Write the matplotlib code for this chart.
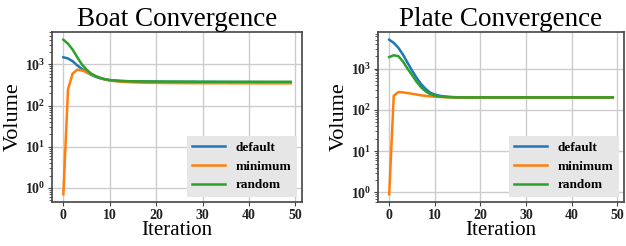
import matplotlib
matplotlib.use("Agg")
import matplotlib.pyplot as plt
import numpy as np

iterations = list(range(50))

boat_default = [1500, 1400, 1200, 950, 780, 650, 560, 500, 460, 430, 415, 405, 400, 395, 392,
                390, 388, 386, 385, 384, 383, 382, 381, 380, 380, 379, 379, 378, 378, 377,
                377, 376, 376, 376, 375, 375, 375, 374, 374, 374, 373, 373, 373, 372, 372,
                372, 372, 371, 371, 371]
boat_minimum = [0.7, 250, 600, 750, 720, 650, 580, 520, 470, 430, 410, 395, 385, 378, 372,
                368, 365, 362, 360, 358, 357, 356, 355, 354, 353, 353, 352, 352, 351, 351,
                351, 350, 350, 350, 350, 350, 349, 349, 349, 349, 349, 349, 348, 348, 348,
                348, 348, 348, 348, 348]
boat_random = [4000, 3200, 2300, 1500, 1000, 750, 600, 520, 470, 440, 420, 410, 400, 395, 392,
               390, 388, 387, 386, 385, 385, 384, 384, 383, 383, 383, 382, 382, 382, 381,
               381, 381, 381, 380, 380, 380, 380, 380, 380, 380, 380, 380, 380, 380, 380,
               380, 380, 380, 380, 380]

plate_default = [5000, 4200, 3200, 2200, 1400, 900, 600, 420, 320, 260, 235, 220, 212, 207, 204,
                 202, 201, 200, 200, 200, 200, 200, 200, 200, 200, 200, 200, 200, 200, 200,
                 200, 200, 200, 200, 200, 200, 200, 200, 200, 200, 200, 200, 200, 200, 200,
                 200, 200, 200, 200, 200]
plate_minimum = [0.9, 220, 270, 265, 255, 245, 235, 225, 218, 212, 208, 205, 203, 202, 201,
                 200, 200, 200, 200, 200, 200, 200, 200, 200, 200, 200, 200, 200, 200, 200,
                 200, 200, 200, 200, 200, 200, 200, 200, 200, 200, 200, 200, 200, 200, 200,
                 200, 200, 200, 200, 200]
plate_random = [1900, 2100, 2000, 1500, 1000, 700, 480, 350, 280, 240, 222, 212, 206, 203, 201,
                200, 200, 200, 200, 200, 200, 200, 200, 200, 200, 200, 200, 200, 200, 200,
                200, 200, 200, 200, 200, 200, 200, 200, 200, 200, 200, 200, 200, 200, 200,
                200, 200, 200, 200, 200]

labels = ["default", "minimum", "random"]
colors = ["#1f77b4", "#ff7f0e", "#2ca02c"]
titles = ["Boat Convergence", "Plate Convergence"]

plt.rcParams["font.family"] = ["Liberation Serif", "DejaVu Serif"]
plt.rcParams["mathtext.fontset"] = "custom"
plt.rcParams["mathtext.rm"] = "Liberation Serif:bold"
plt.rcParams["mathtext.it"] = "Liberation Serif:bold"
plt.rcParams["mathtext.bf"] = "Liberation Serif:bold"

fig = plt.figure(figsize=(6.26, 2.46), dpi=100)
axes = [fig.add_axes([52/626, 44/246, 250/626, 170/246]),
        fig.add_axes([378/626, 44/246, 246/626, 170/246])]

datasets = [[boat_default, boat_minimum, boat_random],
            [plate_default, plate_minimum, plate_random]]

for ax, title, data in zip(axes, titles, datasets):
    for series, lab, c in zip(data, labels, colors):
        ax.plot(iterations, series, color=c, lw=1.8, label=lab)
    ax.set_yscale("log")
    ax.set_xticks([0, 10, 20, 30, 40, 50])
    ax.set_title(title, fontsize=19.5, pad=3)
    ax.set_xlabel("Iteration", fontsize=15, labelpad=-1)
    ax.set_ylabel("Volume", fontsize=16, labelpad=1)
    ax.grid(True, color="#cccccc", lw=1.0)
    ax.set_axisbelow(True)
    for s in ax.spines.values():
        s.set_color("#444444")
        s.set_linewidth(1.2)
    ax.tick_params(axis="both", labelsize=10, colors="#444444", labelcolor="#222222", length=3, pad=2)
    ax.tick_params(axis="y", which="minor", colors="#444444", length=2)
    for t in ax.get_xticklabels() + ax.get_yticklabels():
        t.set_fontweight("bold")
    leg = ax.legend(loc="lower right", prop={"weight": "bold", "size": 9.5},
                    facecolor="#e6e6e6", edgecolor="none", framealpha=1.0,
                    fancybox=False, handlelength=2.5, borderaxespad=0.4)

fig.savefig("out.png", dpi=100)
